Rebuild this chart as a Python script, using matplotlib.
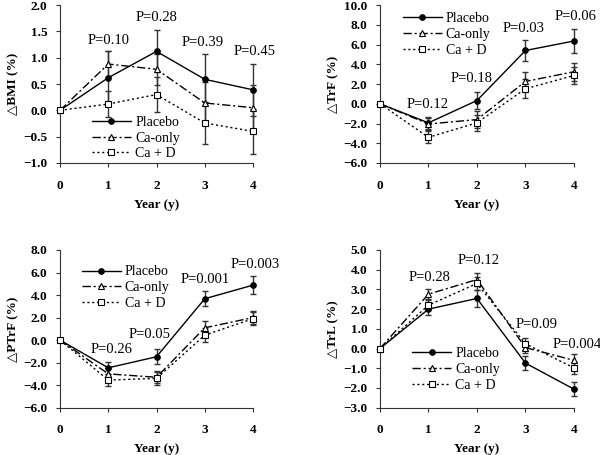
import matplotlib
matplotlib.use("Agg")
import matplotlib.pyplot as plt
import numpy as np

years = [0, 1, 2, 3, 4]
groups = ["Placebo", "Ca-only", "Ca + D"]

# Panel A: BMI
bmi_placebo = [0, 0.62, 1.12, 0.59, 0.39]
bmi_placebo_err = [0, 0.50, 0.40, 0.48, 0.50]
bmi_ca = [0, 0.88, 0.78, 0.14, 0.05]
bmi_ca_err = [0, 0.25, 0.30, 0.40, 0.43]
bmi_cad = [0, 0.12, 0.30, -0.24, -0.40]
bmi_cad_err = [0, 0.25, 0.33, 0.40, 0.42]
bmi_p = ["P=0.10", "P=0.28", "P=0.39", "P=0.45"]

# Panel B: TrF
trf_placebo = [0, -1.93, 0.33, 5.40, 6.36]
trf_placebo_err = [0, 0.60, 0.90, 1.05, 1.20]
trf_ca = [0, -2.05, -1.60, 2.26, 3.25]
trf_ca_err = [0, 0.60, 0.90, 1.00, 0.90]
trf_cad = [0, -3.40, -1.93, 1.52, 2.87]
trf_cad_err = [0, 0.60, 0.80, 0.95, 0.90]
trf_p = ["P=0.12", "P=0.18", "P=0.03", "P=0.06"]

# Panel C: PTrF
ptrf_placebo = [0, -2.46, -1.48, 3.67, 4.88]
ptrf_placebo_err = [0, 0.55, 0.65, 0.65, 0.78]
ptrf_ca = [0, -3.00, -3.30, 1.09, 2.00]
ptrf_ca_err = [0, 0.55, 0.55, 0.60, 0.55]
ptrf_cad = [0, -3.55, -3.40, 0.44, 1.90]
ptrf_cad_err = [0, 0.55, 0.55, 0.60, 0.55]
ptrf_p = ["P=0.26", "P=0.05", "P=0.001", "P=0.003"]

# Panel D: TrL
trl_placebo = [0, 2.00, 2.54, -0.74, -2.06]
trl_placebo_err = [0, 0.30, 0.45, 0.35, 0.35]
trl_ca = [0, 2.76, 3.50, 0.05, -0.60]
trl_ca_err = [0, 0.25, 0.35, 0.30, 0.30]
trl_cad = [0, 2.20, 3.30, 0.24, -0.98]
trl_cad_err = [0, 0.25, 0.35, 0.30, 0.30]
trl_p = ["P=0.28", "P=0.12", "P=0.09", "P=0.004"]

SERIF = ["Liberation Serif", "DejaVu Serif"]
plt.rcParams["font.family"] = SERIF

fig = plt.figure(figsize=(6.0, 4.55), dpi=100)

panels = [
    dict(rect=[0.100, 0.6418, 0.3217, 0.347], ylim=(-1.0, 2.0), step=0.5,
         ylabel="\u25b3BMI (%)",
         data=[(bmi_placebo, bmi_placebo_err), (bmi_ca, bmi_ca_err), (bmi_cad, bmi_cad_err)],
         p=bmi_p, ppos=[(1.0, 1.33), (2.0, 1.76), (2.96, 1.28), (4.04, 1.11)],
         leg=(0.166, 0.158)),
    dict(rect=[0.6333, 0.6418, 0.3233, 0.347], ylim=(-6.0, 10.0), step=2.0,
         ylabel="\u25b3TrF (%)",
         data=[(trf_placebo, trf_placebo_err), (trf_ca, trf_ca_err), (trf_cad, trf_cad_err)],
         p=trf_p, ppos=[(0.98, -0.1), (1.89, 2.6), (2.97, 7.6), (4.04, 8.8)],
         leg=(0.117, 0.814)),
    dict(rect=[0.100, 0.104, 0.3217, 0.3466], ylim=(-6.0, 8.0), step=2.0,
         ylabel="\u25b3PTrF (%)",
         data=[(ptrf_placebo, ptrf_placebo_err), (ptrf_ca, ptrf_ca_err), (ptrf_cad, ptrf_cad_err)],
         p=ptrf_p, ppos=[(1.07, -0.8), (1.86, 0.5), (3.0, 5.4), (4.04, 6.7)],
         leg=(0.112, 0.761)),
    dict(rect=[0.6333, 0.104, 0.3233, 0.3466], ylim=(-3.0, 5.0), step=1.0,
         ylabel="\u25b3TrL (%)",
         data=[(trl_placebo, trl_placebo_err), (trl_ca, trl_ca_err), (trl_cad, trl_cad_err)],
         p=trl_p, ppos=[(1.03, 3.6), (2.04, 4.45), (3.24, 1.24), (4.06, 0.22)],
         leg=(0.167, 0.243)),
]

styles = [
    dict(ls="-", marker="o", mfc="black", ms=4),
    dict(ls=(0, (6, 2, 1.5, 2)), marker="^", mfc="white", ms=4.5),
    dict(ls=(0, (1.5, 2)), marker="s", mfc="white", ms=4),
]

for pnl in panels:
    ax = fig.add_axes(pnl["rect"])
    handles = []
    for (vals, errs), st, name in zip(pnl["data"], styles, groups):
        eb = ax.errorbar(years, vals, yerr=errs, fmt="none", ecolor="#333333",
                         elinewidth=1.0, capsize=2.5, capthick=1.0, zorder=2)
        for art in eb.lines[1] + eb.lines[2]:
            art.set_clip_on(False)
        h, = ax.plot(years, vals, color="black", lw=1.0, ls=st["ls"],
                     marker=st["marker"], mfc=st["mfc"], mec="black",
                     mew=0.8, ms=st["ms"], label=name, zorder=3, clip_on=False)
        handles.append(h)
    ax.set_xlim(0, 4)
    ax.set_ylim(*pnl["ylim"])
    ax.set_xticks(years)
    lo, hi = pnl["ylim"]
    yt = np.arange(lo, hi + pnl["step"] / 2, pnl["step"])
    ax.set_yticks(yt)
    ax.set_yticklabels([f"{v:.1f}".replace("-", "\u2212") for v in yt])
    for s in ["top", "right"]:
        ax.spines[s].set_visible(False)
    for s in ["left", "bottom"]:
        ax.spines[s].set_linewidth(0.8)
        ax.spines[s].set_color("#333333")
    ax.tick_params(direction="out", length=3, width=0.8, color="#333333",
                   labelsize=9.5)
    ax.tick_params(axis="x", pad=9)
    ax.tick_params(axis="y", pad=6)
    for lab in ax.get_xticklabels() + ax.get_yticklabels():
        lab.set_fontweight("bold")
    ax.set_xlabel("Year (y)", fontsize=9.5, fontweight="bold", labelpad=5)
    ax.set_ylabel(pnl["ylabel"], fontsize=9.5, fontweight="bold", labelpad=3)
    for txt, (px, py) in zip(pnl["p"], pnl["ppos"]):
        ax.text(px, py, txt, ha="center", va="center", fontsize=10.5, clip_on=False)
    ax.legend(handles=handles, loc="center left", bbox_to_anchor=pnl["leg"],
              frameon=False, fontsize=10, handlelength=2.8, handletextpad=0.3,
              labelspacing=0.2, borderpad=0, borderaxespad=0)

fig.savefig("out.png", dpi=100)
